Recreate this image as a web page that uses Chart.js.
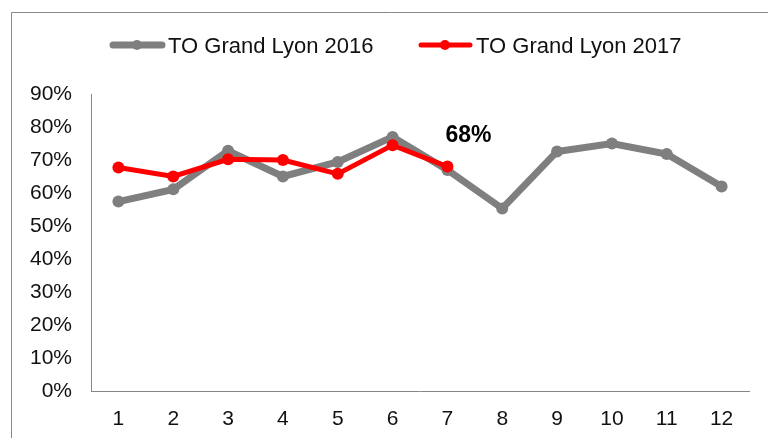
<!DOCTYPE html>
<html>
<head>
<meta charset="utf-8">
<script src="https://cdn.jsdelivr.net/npm/chart.js@4/dist/chart.umd.min.js"></script>
<style>
html,body{margin:0;padding:0;background:#fff;}
#wrap{position:relative;width:768px;height:438px;}
</style>
</head>
<body>
<div id="wrap"><canvas id="c" width="768" height="438"></canvas></div>
<script>
const months = ['1','2','3','4','5','6','7','8','9','10','11','12'];
const seriesNames = ['TO Grand Lyon 2016', 'TO Grand Lyon 2017'];
const values2016 = [57.4, 61.1, 72.8, 65.0, 69.4, 77.0, 67.0, 55.3, 72.6, 75.0, 71.8, 62.0];
const values2017 = [67.7, 65.0, 70.2, 70.0, 65.8, 74.5, 68.0];
const yTicks = [0, 10, 20, 30, 40, 50, 60, 70, 80, 90];

const FONT = '"Liberation Sans", Arial, sans-serif';
const GRAY = '#7f7f7f';
const RED = '#ff0000';

const decor = {
  id: 'decor',
  beforeDraw(chart) {
    const ctx = chart.ctx;
    ctx.save();
    ctx.strokeStyle = '#888';
    ctx.lineWidth = 1;
    ctx.beginPath();
    ctx.moveTo(11.5, 460);
    ctx.lineTo(11.5, 12.5);
    ctx.lineTo(800, 12.5);
    ctx.stroke();
    ctx.restore();
  },
  afterDraw(chart) {
    const ctx = chart.ctx;
    ctx.save();
    const items = [
      {x: 110, ds: chart.data.datasets[0]},
      {x: 418, ds: chart.data.datasets[1]}
    ];
    const ly = 45;
    items.forEach(it => {
      ctx.strokeStyle = it.ds.borderColor;
      ctx.lineWidth = it.ds.borderWidth;
      ctx.lineCap = 'round';
      ctx.beginPath();
      ctx.moveTo(it.x + 3, ly);
      ctx.lineTo(it.x + 52, ly);
      ctx.stroke();
      ctx.fillStyle = it.ds.borderColor;
      ctx.beginPath();
      ctx.arc(it.x + 27, ly, 5, 0, Math.PI * 2);
      ctx.fill();
      ctx.fillStyle = '#111';
      ctx.font = '22px ' + FONT;
      ctx.textAlign = 'left';
      ctx.textBaseline = 'alphabetic';
      ctx.fillText(it.ds.label, it.x + 58, ly + 8);
    });
    const meta = chart.getDatasetMeta(1);
    const last = meta.data[meta.data.length - 1];
    const v = chart.data.datasets[1].data[meta.data.length - 1];
    ctx.fillStyle = '#000';
    ctx.font = 'bold 23px ' + FONT;
    ctx.textAlign = 'center';
    ctx.textBaseline = 'alphabetic';
    ctx.fillText(Math.round(v) + '%', last.x + 21, last.y - 25);
    ctx.restore();
  }
};

new Chart(document.getElementById('c'), {
  type: 'line',
  data: {
    labels: months,
    datasets: [
      {
        label: seriesNames[0],
        data: values2016,
        borderColor: GRAY,
        backgroundColor: GRAY,
        borderWidth: 7,
        pointRadius: 6,
        pointBorderWidth: 0,
        pointBackgroundColor: GRAY,
        tension: 0,
        order: 2
      },
      {
        label: seriesNames[1],
        data: values2017,
        borderColor: RED,
        backgroundColor: RED,
        borderWidth: 5,
        pointRadius: 6,
        pointBorderWidth: 0,
        pointBackgroundColor: RED,
        tension: 0,
        order: 1
      }
    ]
  },
  options: {
    responsive: false,
    animation: false,
    events: [],
    layout: { padding: { left: 0, right: 19, top: 94, bottom: 0 } },
    plugins: { legend: { display: false }, tooltip: { enabled: false } },
    scales: {
      x: {
        offset: true,
        grid: { display: false, drawTicks: false },
        border: { display: true, color: '#868686', width: 1 },
        ticks: { color: '#111', font: { family: FONT, size: 21 }, padding: 16, maxRotation: 0, autoSkip: false },
        afterFit(s) { s.height = 47; }
      },
      y: {
        min: 0,
        max: 90,
        afterBuildTicks(s) { s.ticks = yTicks.map(v => ({ value: v })); },
        grid: { display: false, drawTicks: false },
        border: { display: true, color: '#868686', width: 1 },
        ticks: { color: '#111', font: { family: FONT, size: 21 }, padding: 19, callback: v => v + '%' },
        afterFit(s) { s.width = 91; }
      }
    }
  },
  plugins: [decor]
});
</script>
</body>
</html>
